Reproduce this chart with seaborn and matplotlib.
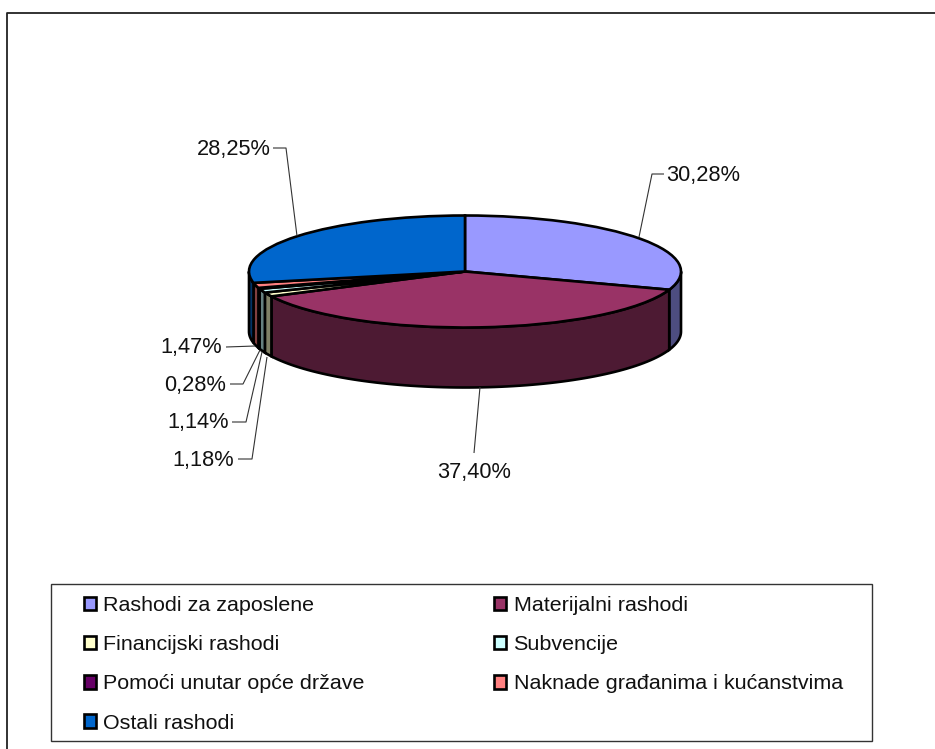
import matplotlib
matplotlib.use('Agg')
import numpy as np
import matplotlib.pyplot as plt
from matplotlib.patches import Patch, Polygon, Rectangle
import seaborn as sns

# Podaci
categories = ['Rashodi za zaposlene', 'Materijalni rashodi', 'Financijski rashodi', 'Subvencije',
              'Pomoći unutar opće države', 'Naknade građanima i kućanstvima', 'Ostali rashodi']
shares = [30.28, 37.40, 1.18, 1.14, 0.28, 1.47, 28.25]
colors = ['#9999FF', '#993366', '#FFFFCC', '#CCFFFF', '#660066', '#FF8080', '#0066CC']

sns.set_theme(style='white')
plt.rcParams['font.family'] = ['Liberation Sans', 'DejaVu Sans']

W, H = 935, 749
CX, CY, RX, RY, DEPTH = 465, 271.5, 216, 56, 60
FS = 15.7
FS_LEG = 15.45
EDGE = 1.9
TXT = '#111111'
LEAD = '#333333'

fig = plt.figure(figsize=(W / 100, H / 100), dpi=100)
ax = fig.add_axes([0, 0, 1, 1])

# gornja ploha
ax.pie(shares, colors=colors, startangle=90, counterclock=False, radius=1, center=(0, 0),
       wedgeprops={'edgecolor': 'black', 'linewidth': EDGE, 'zorder': 3}, normalize=True)
ax.set_aspect('auto')
ax.set_xlim((0 - CX) / RX, (W - CX) / RX)
ax.set_ylim((CY - H) / RY, CY / RY)
ax.axis('off')

# bocna stijenka, samo prednja strana (90-270 stupnjeva od vrha)
edges = np.concatenate([[0], np.cumsum(shares)]) / sum(shares) * 360
d = DEPTH / RY
for i, c in enumerate(colors):
    a0, a1 = max(edges[i], 90), min(edges[i + 1], 270)
    if a1 <= a0:
        continue
    t = np.radians(np.linspace(a0, a1, 80))
    x, y = np.sin(t), np.cos(t)
    pts = np.vstack([np.c_[x, y], np.c_[x[::-1], y[::-1] - d]])
    shade = tuple(v * 0.5 for v in matplotlib.colors.to_rgb(c))
    ax.add_patch(Polygon(pts, closed=True, facecolor=shade, edgecolor='black', linewidth=EDGE, zorder=2))


def px(x, y):
    return (x - CX) / RX, (CY - y) / RY


# oznake s linijama
labels = ['30,28%', '37,40%', '1,18%', '1,14%', '0,28%', '1,47%', '28,25%']
text_pos = [(666, 175.5, 'left'), (474, 472.5, 'center'), (234, 460.5, 'right'), (229, 422.5, 'right'),
            (226, 385.5, 'right'), (222, 347.5, 'right'), (271, 149.5, 'right')]
leaders = [[(664, 174), (652, 174), (639, 237)],
           [(474, 453), (480, 387)],
           [(238, 459), (252, 459), (267, 357)],
           [(232, 422), (246, 422), (262, 352)],
           [(230, 384), (243, 384), (260, 350)],
           [(226, 347), (255, 346)],
           [(273, 148), (286, 148), (297, 236)]]
for lab, (tx, ty, ha), line in zip(labels, text_pos, leaders):
    ax.text(*px(tx, ty), lab, ha=ha, va='center', fontsize=FS, color=TXT, zorder=5)
    xs, ys = zip(*[px(*p) for p in line])
    ax.plot(xs, ys, color=LEAD, lw=0.8, zorder=4, solid_capstyle='butt')

# okvir grafikona (samo lijevo i gore)
ax.plot(*zip(px(7, H), px(7, 13), px(W, 13)), color='#222222', lw=1.3, zorder=1)

# okvir legende
fig.add_artist(Rectangle((50.5 / W, 1 - 741 / H), (872 - 50.5) / W, (741 - 584) / H,
                         transform=fig.transFigure, fill=False, edgecolor='#333333', linewidth=1.0))

# legenda: redoslijed po stupcima
order = [0, 2, 4, 6, 1, 3, 5]
handles = [Patch(facecolor=colors[i], edgecolor='black', linewidth=EDGE, label=categories[i]) for i in order]
fig.legend(handles=handles, ncols=2, loc='upper left', bbox_to_anchor=(83.5 / W, 1 - 596 / H),
           frameon=False, fontsize=FS_LEG, borderpad=0, borderaxespad=0, handlelength=0.6,
           handleheight=0.6, handletextpad=0.33, columnspacing=6.0, labelspacing=0.94,
           labelcolor=TXT)

fig.savefig('out.png', dpi=100)
plt.close()
